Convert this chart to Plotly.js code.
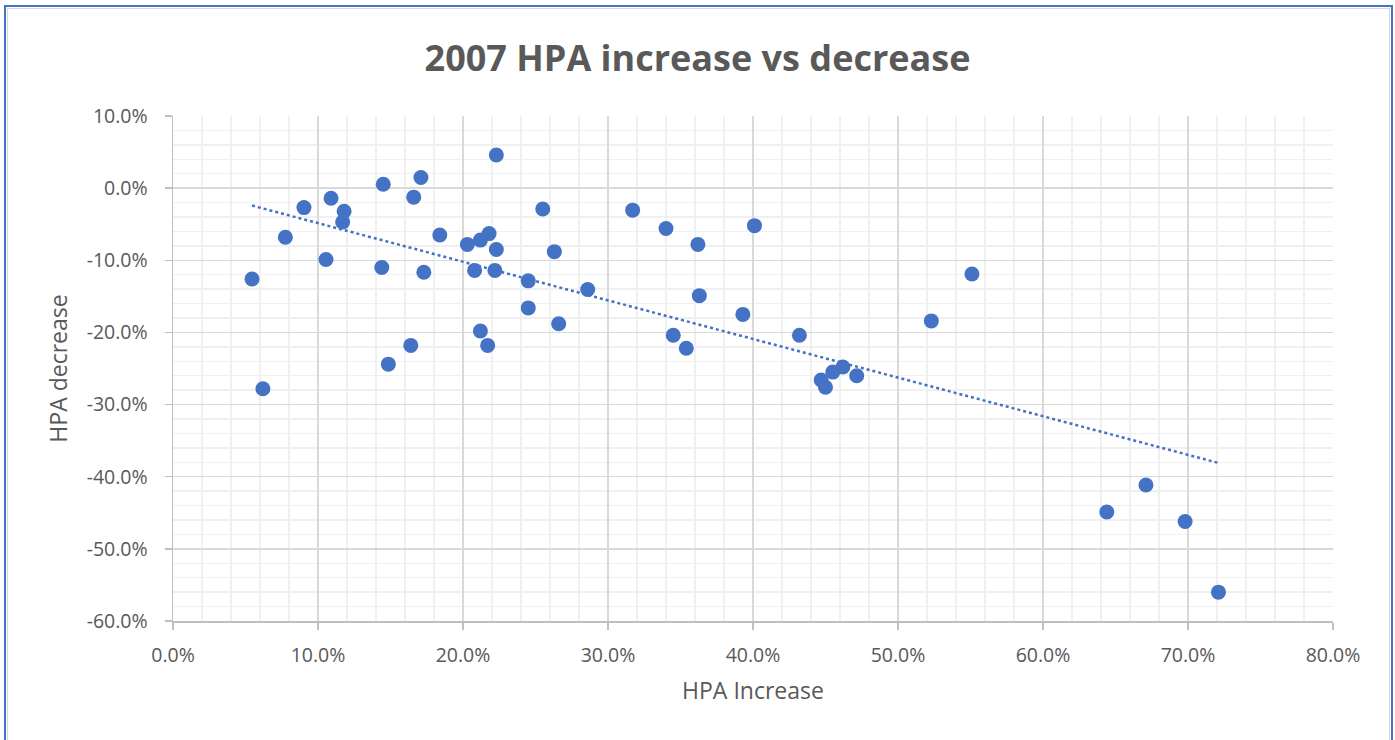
<!DOCTYPE html>
<html>
<head>
<meta charset="utf-8">
<script src="https://cdn.plot.ly/plotly-3.0.1.min.js"></script>
<style>
  html, body { margin: 0; padding: 0; background: #fff; }
  #chart { position: absolute; left: 0; top: 0; width: 1395px; height: 740px; }
  #frameBlue { position: absolute; left: 4px; top: 5px; width: 1389px; height: 800px; border: 2px solid #4472C4; pointer-events: none; box-sizing: border-box; }
  #frameGray { position: absolute; left: 7px; top: 8px; width: 1383px; height: 800px; border: 1px solid #d9d9d9; pointer-events: none; box-sizing: border-box; }
</style>
</head>
<body>
<div id="chart"></div>
<div id="frameBlue"></div>
<div id="frameGray"></div>
<script>
// HPA increase (fraction) and HPA decrease (fraction)
const hpaIncrease = [0.0545, 0.062, 0.0775, 0.0903, 0.1055, 0.109, 0.118, 0.117, 0.144, 0.145,
  0.1485, 0.164, 0.166, 0.171, 0.173, 0.184, 0.203, 0.208, 0.212, 0.212,
  0.217, 0.218, 0.223, 0.222, 0.223, 0.245, 0.245, 0.255, 0.263, 0.266,
  0.286, 0.317, 0.340, 0.345, 0.354, 0.362, 0.363, 0.393, 0.401, 0.432,
  0.447, 0.450, 0.455, 0.462, 0.4715, 0.523, 0.551, 0.644, 0.671, 0.698, 0.721];
const hpaDecrease = [-0.126, -0.278, -0.068, -0.027, -0.099, -0.014, -0.032, -0.047, -0.110, 0.0055,
  -0.244, -0.218, -0.0125, 0.0148, -0.1165, -0.065, -0.078, -0.114, -0.072, -0.198,
  -0.218, -0.063, -0.085, -0.114, 0.046, -0.1285, -0.166, -0.029, -0.088, -0.188,
  -0.1405, -0.0305, -0.056, -0.204, -0.222, -0.078, -0.149, -0.175, -0.052, -0.204,
  -0.266, -0.276, -0.255, -0.248, -0.260, -0.184, -0.119, -0.449, -0.4115, -0.462, -0.560];

const xTickVals = [0, 0.1, 0.2, 0.3, 0.4, 0.5, 0.6, 0.7, 0.8];
const xTickLabels = ["0.0%", "10.0%", "20.0%", "30.0%", "40.0%", "50.0%", "60.0%", "70.0%", "80.0%"];
const yTickVals = [-0.6, -0.5, -0.4, -0.3, -0.2, -0.1, 0, 0.1];
const yTickLabels = ["-60.0%", "-50.0%", "-40.0%", "-30.0%", "-20.0%", "-10.0%", "0.0%", "10.0%"];

const chartTitle = "2007 HPA increase vs decrease";
const xTitle = "HPA Increase";
const yTitle = "HPA decrease";

// Linear least-squares trendline (as Excel does)
const n = hpaIncrease.length;
let sx = 0, sy = 0, sxx = 0, sxy = 0;
for (let i = 0; i < n; i++) {
  sx += hpaIncrease[i]; sy += hpaDecrease[i];
  sxx += hpaIncrease[i] * hpaIncrease[i]; sxy += hpaIncrease[i] * hpaDecrease[i];
}
const slope = (n * sxy - sx * sy) / (n * sxx - sx * sx);
const intercept = (sy - slope * sx) / n;
const xMin = Math.min(...hpaIncrease), xMax = Math.max(...hpaIncrease);
const trendX = [xMin, xMax];
const trendY = trendX.map(v => intercept + slope * v);

const blue = "#4472C4";
const textColor = "#595959";
const fontFam = "'Open Sans', 'Noto Sans', sans-serif";

const traces = [
  {
    x: trendX, y: trendY, type: "scatter", mode: "lines",
    line: { color: blue, width: 2.5, dash: "dot" },
    hoverinfo: "skip", showlegend: false
  },
  {
    x: hpaIncrease, y: hpaDecrease, type: "scatter", mode: "markers",
    marker: { color: blue, size: 15, line: { width: 0 } },
    showlegend: false
  }
];

const layout = {
  width: 1395, height: 740,
  margin: { l: 173, r: 62, t: 116, b: 119 },
  paper_bgcolor: "#ffffff", plot_bgcolor: "#ffffff",
  font: { family: fontFam, color: textColor },
  title: {
    text: "<b>" + chartTitle + "</b>",
    font: { size: 36, color: textColor, family: fontFam },
    x: 0.5, xref: "container", xanchor: "center",
    y: 1 - 58 / 740, yref: "container", yanchor: "middle"
  },
  xaxis: {
    range: [0, 0.8], tickmode: "array", tickvals: xTickVals, ticktext: xTickLabels,
    showgrid: true, gridcolor: "#d9d9d9", gridwidth: 1.5,
    minor: { dtick: 0.02, tick0: 0, showgrid: true, gridcolor: "#f0f0f0", gridwidth: 1.5 },
    ticks: "outside", ticklen: 7, tickcolor: "#bfbfbf", tickwidth: 1.5,
    ticklabelstandoff: 9,
    showline: true, linecolor: "#bfbfbf", linewidth: 1.5,
    zeroline: false,
    tickfont: { size: 19.5, color: textColor },
    title: { text: xTitle, font: { size: 23, color: textColor }, standoff: 16 },
    fixedrange: true
  },
  yaxis: {
    range: [-0.6, 0.1], tickmode: "array", tickvals: yTickVals, ticktext: yTickLabels,
    showgrid: true, gridcolor: "#d9d9d9", gridwidth: 1.5,
    minor: { dtick: 0.02, tick0: 0, showgrid: true, gridcolor: "#f0f0f0", gridwidth: 1.5 },
    ticks: "outside", ticklen: 7, tickcolor: "#bfbfbf", tickwidth: 1.5,
    ticklabelstandoff: 13,
    showline: true, linecolor: "#bfbfbf", linewidth: 1.5,
    zeroline: false,
    tickfont: { size: 19.5, color: textColor },
    title: { text: yTitle, font: { size: 23, color: textColor }, standoff: 12 },
    fixedrange: true
  }
};

Plotly.newPlot("chart", traces, layout, { displayModeBar: false, staticPlot: true });
</script>
</body>
</html>
